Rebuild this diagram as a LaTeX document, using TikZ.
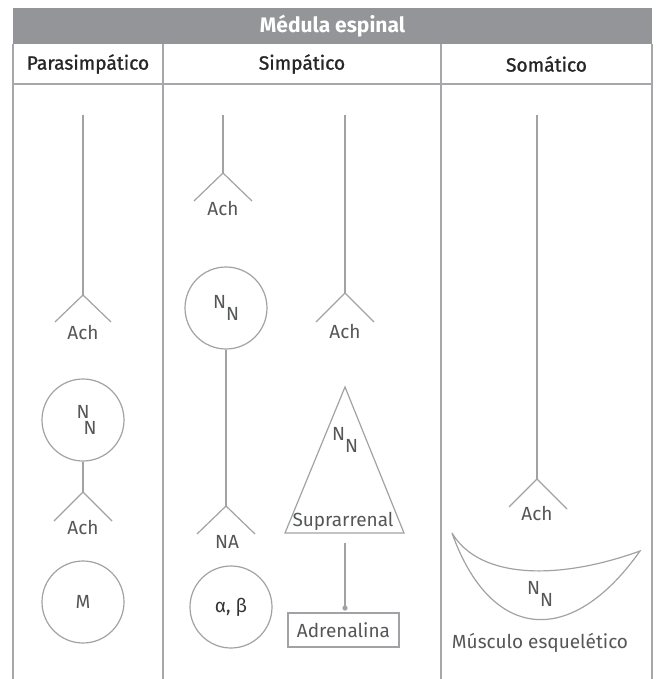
\documentclass[tikz,border=0pt]{standalone}
\usepackage{fontspec}
\setmainfont{Fira Sans}
\newfontfamily\colfont{Fira Sans}[FakeBold=1.2]
\usepackage{xcolor}
\usetikzlibrary{positioning}
\definecolor{headgray}{RGB}{147,149,152}
\definecolor{rulegray}{RGB}{165,167,170}
\definecolor{nervegray}{RGB}{160,162,165}
\definecolor{labelgray}{RGB}{85,86,88}
\newcommand{\subN}{N\raisebox{-0.62em}{N}}

\begin{document}
\begin{tikzpicture}[
  x=0.5pt, y=-0.5pt,
  rule/.style={rulegray, line width=1pt},
  nerve/.style={nervegray, line width=0.6pt},
  head/.style={font=\fontsize{10.5}{12}\selectfont\bfseries, text=white},
  colhead/.style={font=\colfont\fontsize{9.6}{12}\selectfont\bfseries, text=black!85},
  lbl/.style={font=\fontsize{9.5}{11}\selectfont, text=labelgray, inner sep=1pt},
  receptor/.style={circle, draw=nervegray, line width=0.6pt, minimum size=41pt,
                   inner sep=0pt, font=\fontsize{9.5}{11}\selectfont, text=labelgray},
  gland/.style={rectangle, draw=nervegray, line width=0.6pt, minimum width=55.5pt,
                minimum height=17pt, font=\fontsize{9.5}{11}\selectfont, text=labelgray}
]
\useasboundingbox (0,0) rectangle (656,679);

% table
\fill[headgray] (13,8) rectangle (652,44);
\node[head] (title) at (332.5,26) {Médula espinal};
\draw[rule] (13,44) -- (13,679);
\draw[rule] (652,44) -- (652,679);
\draw[rule] (163,44) -- (163,679);
\draw[rule] (441,44) -- (441,679);
\draw[rule] (13,84) -- (652,84);
\node[colhead, font=\colfont\fontsize{9.6}{12}\selectfont] (para) at (88,64) {Parasimpático};
\node[colhead, font=\colfont\fontsize{9.6}{12}\selectfont] (simp) at (302,64) {Simpático};
\node[colhead, font=\colfont\fontsize{9.6}{12}\selectfont] (soma) at (546.5,64) {Somático};

% parasimpatico
\coordinate (p1top) at (83,115);
\coordinate (p1fork) at (83,295);
\draw[nerve] (p1top) -- (p1fork);
\draw[nerve] (55,322) -- (p1fork) -- (111,322);
\node[lbl] (p1ach) at (83,333) {Ach};
\node[receptor, align=center] (pgang) at (83,420) {N\\[-3pt]\hspace*{7pt}N};
\coordinate (p2fork) at (83,492);
\draw[nerve] (pgang) -- (p2fork);
\draw[nerve] (54,521) -- (p2fork) -- (112,521);
\node[lbl] (p2ach) at (83,528) {Ach};
\node[receptor] (pmusc) at (83,602) {M};

% simpatico
\coordinate (s1top) at (223,115);
\coordinate (s1fork) at (223,173);
\draw[nerve] (s1top) -- (s1fork);
\draw[nerve] (194,201) -- (s1fork) -- (252,201);
\node[lbl] (s1ach) at (223,209) {Ach};
\node[receptor] (sgang) at (226,308) {\subN};
\coordinate (s2fork) at (226,506);
\draw[nerve] (sgang) -- (s2fork);
\draw[nerve] (197,534) -- (s2fork) -- (255,534);
\node[lbl] (sna) at (227,542) {NA};
\node[receptor, text=black!80] (sadr) at (231,607) {α, β};

\coordinate (s3top) at (345,115);
\coordinate (s3fork) at (345,293);
\draw[nerve] (s3top) -- (s3fork);
\draw[nerve] (316,322) -- (s3fork) -- (374,322);
\node[lbl] (s3ach) at (345,332) {Ach};
\coordinate (suptop) at (345,387);
\coordinate (supleft) at (285,533);
\coordinate (supright) at (404,533);
\draw[nerve] (suptop) -- (supleft) -- (supright) -- cycle;
\node[lbl] (supnn) at (345,440) {\subN};
\node[lbl] (supname) at (343,521) {Suprarrenal};
\coordinate (supout) at (345,543);
\coordinate (adrdot) at (345,608);
\draw[nerve] (supout) -- (adrdot);
\fill[nervegray] (adrdot) circle (1.3pt);
\node[gland] (adren) at (343.5,630) {Adrenalina};

% somatico
\coordinate (m1top) at (537,115);
\coordinate (m1fork) at (537,479);
\draw[nerve] (m1top) -- (m1fork);
\draw[nerve] (509,507) -- (m1fork) -- (567,509);
\node[lbl] (m1ach) at (537,514) {Ach};
\coordinate (muscl) at (452,533);
\coordinate (muscr) at (640,551);
\draw[nerve] (muscl) .. controls (480,580) and (560,580) .. (muscr)
  .. controls (570,650) and (490,640) .. (muscl);
\node[lbl] (musnn) at (540,594) {\subN};
\node[lbl] (musname) at (540,643) {Músculo esquelético};
\end{tikzpicture}
\end{document}
